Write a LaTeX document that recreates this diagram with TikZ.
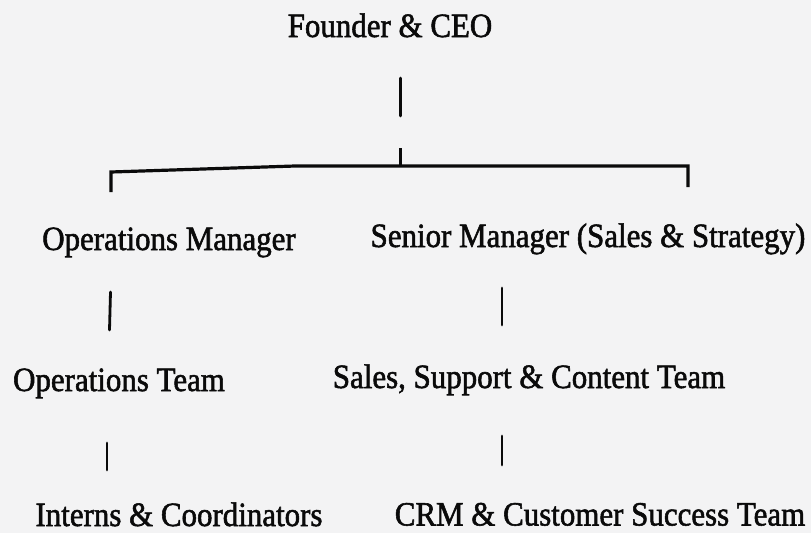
\documentclass[tikz,border=0pt]{standalone}
\usepackage{fontspec}
\setmainfont{Liberation Serif}[FakeStretch=0.91,FakeBold=1.6]
\definecolor{paper}{RGB}{243,243,244}
\definecolor{ink}{RGB}{10,10,10}
\begin{document}
\begin{tikzpicture}[x=1pt,y=-1pt,
  label/.style={inner sep=0pt,anchor=base,text=ink,font=\fontsize{34}{40}\selectfont},
  link/.style={draw=ink,line width=2.8pt,line cap=round},
  bracket/.style={draw=ink,line width=3.2pt,line join=miter}]
  % page
  \fill[paper] (0,0) rectangle (811,533);
  \useasboundingbox (0,0) rectangle (811,533);

  % titles
  \node[label] (ceo)    at (390,37)  {Founder \& CEO};
  \node[label] (opsmgr) at (169,250) {Operations Manager};
  \node[label] (srmgr)  at (588,247) {Senior Manager (Sales \& Strategy)};
  \node[label] (opsteam) at (119,391) {Operations Team};
  \node[label] (sales)  at (529,388) {Sales, Support \& Content Team};
  \node[label] (interns) at (179,526) {Interns \& Coordinators};
  \node[label] (crm)    at (600,525.5) {CRM \& Customer Success Team};

  % connector end points
  \coordinate (ceoA) at (400.5,78);
  \coordinate (ceoB) at (400.5,116);
  \coordinate (tickT) at (400.5,148);
  \coordinate (tickB) at (400.5,166);
  \coordinate (brL) at (111,192);
  \coordinate (brLt) at (111,172);
  \coordinate (brK) at (295,166);
  \coordinate (brRt) at (688,166);
  \coordinate (brR) at (688,187);
  \coordinate (om1) at (110.5,292);
  \coordinate (om2) at (109.5,330);
  \coordinate (sm1) at (502,288);
  \coordinate (sm2) at (502,325);
  \coordinate (ot1) at (107,443);
  \coordinate (ot2) at (107,470);
  \coordinate (st1) at (502,436);
  \coordinate (st2) at (502,465);

  % connectors
  \draw[link] (ceoA) -- (ceoB);
  \draw[bracket] (tickT) -- (tickB);
  \draw[bracket] (brL) -- (brLt) -- (brK) -- (brRt) -- (brR);
  \draw[link] (om1) -- (om2);
  \draw[link] (sm1) -- (sm2);
  \draw[link] (ot1) -- (ot2);
  \draw[link] (st1) -- (st2);
\end{tikzpicture}
\end{document}
